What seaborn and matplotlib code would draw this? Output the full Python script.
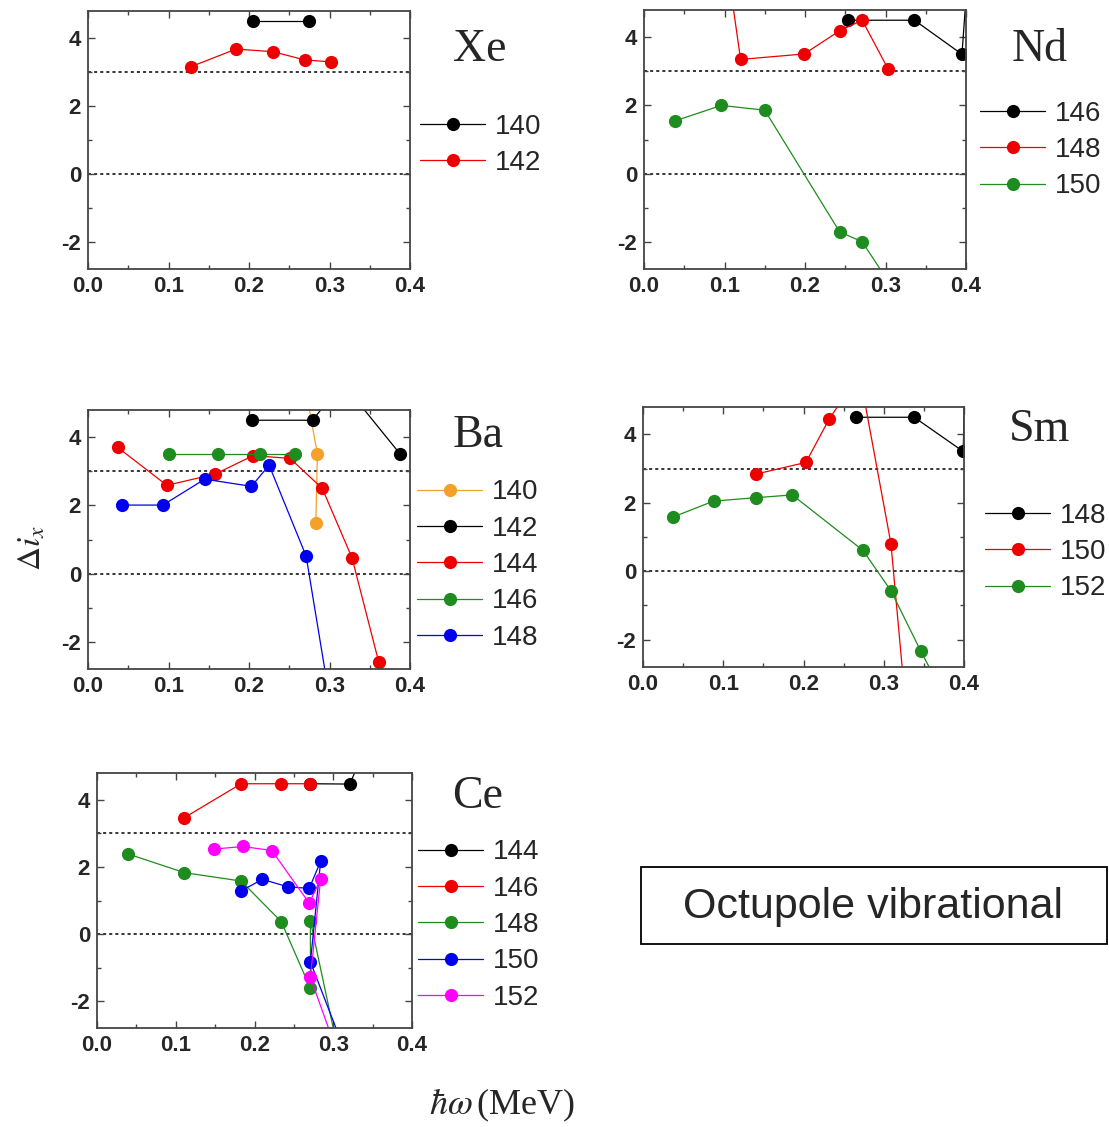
import matplotlib
matplotlib.use("Agg")
import matplotlib.pyplot as plt
import seaborn as sns
import pandas as pd
from matplotlib.lines import Line2D
from matplotlib.patches import Rectangle
from matplotlib.ticker import MultipleLocator, FormatStrFormatter

# ---- data (hbar*omega in MeV, delta i_x) ----
# Xe
xe140_w = [0.205, 0.274]
xe140_di = [4.5, 4.5]
xe142_w = [0.128, 0.184, 0.230, 0.269, 0.302]
xe142_di = [3.16, 3.68, 3.60, 3.36, 3.30]

# Nd
nd146_w = [0.254, 0.336, 0.395, 0.401]
nd146_di = [4.5, 4.5, 3.5, 5.5]
nd148_w = [0.104, 0.120, 0.199, 0.243, 0.271, 0.303]
nd148_di = [6.0, 3.35, 3.51, 4.19, 4.5, 3.08]
nd150_w = [0.039, 0.096, 0.150, 0.243, 0.271, 0.310]
nd150_di = [1.55, 2.0, 1.86, -1.71, -2.0, -3.4]

# Ba
ba140_w = [0.269, 0.285, 0.283]
ba140_di = [5.6, 3.5, 1.47]
ba142_w = [0.204, 0.279, 0.316, 0.388]
ba142_di = [4.5, 4.5, 5.6, 3.5]
ba144_w = [0.037, 0.098, 0.158, 0.205, 0.251, 0.291, 0.328, 0.361]
ba144_di = [3.70, 2.59, 2.92, 3.46, 3.38, 2.50, 0.46, -2.58]
ba146_w = [0.101, 0.162, 0.214, 0.257]
ba146_di = [3.5, 3.5, 3.5, 3.5]
ba148_w = [0.042, 0.093, 0.145, 0.203, 0.225, 0.271, 0.300]
ba148_di = [2.01, 2.01, 2.77, 2.56, 3.18, 0.51, -3.65]

# Sm
sm148_w = [0.265, 0.338, 0.399, 0.401]
sm148_di = [4.5, 4.5, 3.5, 5.5]
sm150_w = [0.141, 0.203, 0.232, 0.270, 0.309, 0.326]
sm150_di = [2.84, 3.18, 4.45, 5.76, 0.80, -3.6]
sm152_w = [0.037, 0.088, 0.141, 0.186, 0.274, 0.309, 0.346, 0.370]
sm152_di = [1.58, 2.05, 2.15, 2.23, 0.61, -0.57, -2.33, -3.4]

# Ce
ce144_w = [0.271, 0.321, 0.340]
ce144_di = [4.48, 4.47, 5.5]
ce146_w = [0.111, 0.183, 0.234, 0.271]
ce146_di = [3.47, 4.48, 4.48, 4.48]
ce148_w = [0.039, 0.111, 0.183, 0.234, 0.271, 0.271, 0.305]
ce148_di = [2.39, 1.83, 1.58, 0.37, -1.62, 0.39, -3.35]
ce150_w = [0.1825, 0.210, 0.242, 0.2695, 0.284, 0.271, 0.310]
ce150_di = [1.28, 1.63, 1.41, 1.36, 2.17, -0.83, -3.2]
ce152_w = [0.148, 0.185, 0.222, 0.2695, 0.284, 0.271, 0.300]
ce152_di = [2.53, 2.61, 2.49, 0.92, 1.64, -1.29, -3.2]

COLORS = {"black": "#000000", "red": "#ee0000", "green": "#1e8c1e",
          "blue": "#0000ee", "orange": "#f5a028", "magenta": "#ff00ff"}

sns.set_style("ticks")
plt.rcParams["font.family"] = ["Liberation Sans", "DejaVu Sans"]
plt.rcParams["axes.unicode_minus"] = False
plt.rcParams["mathtext.fontset"] = "stix"

W, H = 1109, 1127
fig = plt.figure(figsize=(W / 100, H / 100), dpi=100)


def add_ax(l, r, t, b):
    return fig.add_axes([l / W, 1 - b / H, (r - l) / W, (b - t) / H])


def panel(ax, name, series, name_xy, leg_x, leg_y):
    rows = []
    for label, w, di, col in series:
        for a, b in zip(w, di):
            rows.append({"w": a, "di": b, "A": label})
    df = pd.DataFrame(rows)
    pal = {label: COLORS[col] for label, _, _, col in series}
    sns.lineplot(data=df, x="w", y="di", hue="A", palette=pal, sort=False,
                 estimator=None, marker="o", markersize=9.5, markeredgewidth=0,
                 linewidth=0.9, legend=False, ax=ax)
    ax.axhline(3, color="black", ls=(0, (2, 2)), lw=1.1, zorder=0)
    ax.axhline(0, color="black", ls=(0, (2, 2)), lw=1.1, zorder=0)
    ax.set_xlim(0, 0.4)
    ax.set_ylim(-2.8, 4.8)
    ax.xaxis.set_major_locator(MultipleLocator(0.1))
    ax.xaxis.set_minor_locator(MultipleLocator(0.05))
    ax.yaxis.set_major_locator(MultipleLocator(2))
    ax.yaxis.set_minor_locator(MultipleLocator(1))
    ax.xaxis.set_major_formatter(FormatStrFormatter("%.1f"))
    ax.yaxis.set_major_formatter(FormatStrFormatter("%d"))
    ax.tick_params(which="both", direction="in", top=True, right=True,
                   color="#444444")
    ax.tick_params(which="major", length=5, width=1, labelsize=16, pad=5)
    ax.tick_params(which="minor", length=3, width=1)
    for lab in ax.get_xticklabels() + ax.get_yticklabels():
        lab.set_fontweight("bold")
    for s in ax.spines.values():
        s.set_color("#444444")
        s.set_linewidth(1.3)
    ax.set_xlabel("")
    ax.set_ylabel("")
    fig.text(name_xy[0] / W, 1 - name_xy[1] / H, name, ha="center",
             va="center", fontsize=33, family=["Liberation Serif"])
    handles = [Line2D([], [], color=COLORS[col], lw=0.9, marker="o",
                      markersize=9.5, markeredgewidth=0)
               for _, _, _, col in series]
    labels = [label for label, _, _, _ in series]
    fig.legend(handles, labels, loc="center left",
               bbox_to_anchor=(leg_x / W, 1 - leg_y / H), frameon=False,
               fontsize=20, handlelength=2.35, handletextpad=0.35,
               labelspacing=0.37, borderpad=0, borderaxespad=0)


ax_xe = add_ax(88, 410, 11, 269)
panel(ax_xe, "Xe", [("140", xe140_w, xe140_di, "black"),
                    ("142", xe142_w, xe142_di, "red")],
      (480, 50), 420, 145)

ax_nd = add_ax(644, 966, 10, 269)
panel(ax_nd, "Nd", [("146", nd146_w, nd146_di, "black"),
                    ("148", nd148_w, nd148_di, "red"),
                    ("150", nd150_w, nd150_di, "green")],
      (1040, 50), 980, 150)

ax_ba = add_ax(88, 410, 410, 669)
panel(ax_ba, "Ba", [("140", ba140_w, ba140_di, "orange"),
                    ("142", ba142_w, ba142_di, "black"),
                    ("144", ba144_w, ba144_di, "red"),
                    ("146", ba146_w, ba146_di, "green"),
                    ("148", ba148_w, ba148_di, "blue")],
      (478, 436), 417, 565)

ax_sm = add_ax(643, 964, 407, 667)
panel(ax_sm, "Sm", [("148", sm148_w, sm148_di, "black"),
                    ("150", sm150_w, sm150_di, "red"),
                    ("152", sm152_w, sm152_di, "green")],
      (1040, 430), 985, 552)

ax_ce = add_ax(97, 412, 773, 1028)
panel(ax_ce, "Ce", [("144", ce144_w, ce144_di, "black"),
                    ("146", ce146_w, ce146_di, "red"),
                    ("148", ce148_w, ce148_di, "green"),
                    ("150", ce150_w, ce150_di, "blue"),
                    ("152", ce152_w, ce152_di, "magenta")],
      (478, 797), 418, 925)

# axis titles
fig.text(32 / W, 1 - 548 / H, r"$\Delta i_x$", rotation=90, ha="center",
         va="center", fontsize=24)
fig.text(502 / W, 1 - 1105 / H, r"$\hbar\omega\,$(MeV)", ha="center",
         va="center", fontsize=26, family=["Liberation Serif"])

# box with label
fig.patches.append(Rectangle((641 / W, 1 - 944 / H), 466 / W, 77 / H,
                             transform=fig.transFigure, fill=False,
                             edgecolor="black", lw=1.3))
fig.text(873 / W, 1 - 907 / H, "Octupole vibrational", ha="center",
         va="center", fontsize=31)

fig.savefig("out.png", dpi=100)
